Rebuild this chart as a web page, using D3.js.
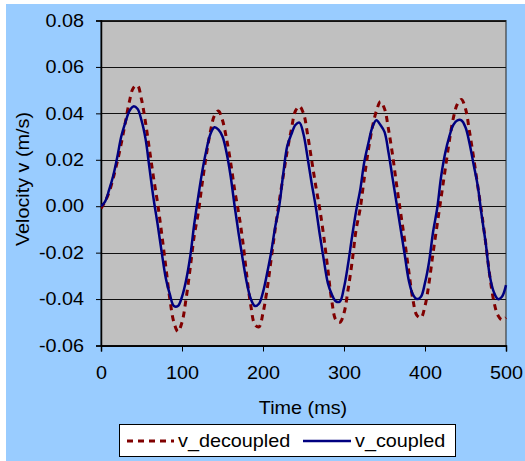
<!DOCTYPE html>
<html><head><meta charset="utf-8">
<script src="https://cdn.jsdelivr.net/npm/d3@7"></script>
<style>body{margin:0;background:#fff}svg{display:block;font-family:Arial,"Liberation Sans",sans-serif}</style>
</head><body>
<svg id="c" width="525" height="461"></svg>
<script>
const times = d3.range(0, 501, 5);
const vCoupled = [0,0.002,0.007,0.013,0.021,0.030,0.036,0.041,0.043,0.042,0.037,0.029,0.016,0.003,-0.008,-0.020,-0.031,-0.038,-0.043,-0.043,
-0.039,-0.032,-0.022,-0.008,0.004,0.015,0.024,0.031,0.034,0.033,0.030,0.023,0.013,0.000,-0.012,-0.023,-0.033,-0.040,-0.043,-0.042,
-0.037,-0.029,-0.020,-0.009,0.000,0.014,0.026,0.031,0.035,0.036,0.031,0.021,0.010,0.000,-0.012,-0.023,-0.033,-0.038,-0.041,-0.041,
-0.035,-0.025,-0.013,-0.002,0.007,0.019,0.027,0.034,0.037,0.035,0.032,0.023,0.012,0.001,-0.010,-0.021,-0.032,-0.038,-0.040,-0.039,
-0.033,-0.024,-0.011,-0.001,0.013,0.023,0.030,0.035,0.037,0.037,0.034,0.027,0.018,0.009,-0.004,-0.016,-0.030,-0.037,-0.040,-0.039,-0.034];
const vDecoupled = [-0.001,0.002,0.006,0.012,0.019,0.027,0.036,0.045,0.051,0.052,0.046,0.036,0.024,0.012,0.001,-0.012,-0.026,-0.040,-0.050,-0.054,
-0.050,-0.040,-0.027,-0.013,-0.003,0.010,0.022,0.032,0.039,0.041,0.037,0.029,0.019,0.007,-0.003,-0.015,-0.030,-0.043,-0.051,-0.052,
-0.046,-0.036,-0.023,-0.010,0.002,0.013,0.024,0.033,0.041,0.043,0.040,0.031,0.020,0.009,-0.001,-0.013,-0.027,-0.041,-0.049,-0.050,
-0.046,-0.036,-0.024,-0.010,-0.001,0.012,0.024,0.034,0.041,0.045,0.042,0.033,0.022,0.009,-0.003,-0.015,-0.028,-0.040,-0.047,-0.048,
-0.043,-0.033,-0.020,-0.008,0.004,0.016,0.028,0.038,0.044,0.046,0.042,0.032,0.021,0.009,-0.003,-0.016,-0.030,-0.041,-0.047,-0.049,-0.048];
const xTicks = [0,100,200,300,400,500];
const yTicks = [-0.06,-0.04,-0.02,0,0.02,0.04,0.06,0.08];
const seriesNames = ["v_decoupled","v_coupled"];

const SX = 1.1, FS = "18px";
const svg = d3.select("#c");
svg.append("rect").attr("x",6).attr("y",4).attr("width",519).attr("height",457).attr("fill","#99CCFF");

const L=101, R=506, T=20.5, B=345.5;
const x = d3.scaleLinear().domain([0,500]).range([L,R]);
const y = d3.scaleLinear().domain([-0.06,0.08]).range([B,T]);

svg.append("rect").attr("x",L).attr("y",T).attr("width",R-L).attr("height",B-T).attr("fill","#C0C0C0");

svg.append("g").selectAll("line").data(yTicks).join("line")
  .attr("x1",L).attr("x2",R).attr("y1",d=>Math.round(y(d))+0.5).attr("y2",d=>Math.round(y(d))+0.5)
  .attr("stroke","#111").attr("stroke-width",1);

svg.append("rect").attr("x",L).attr("y",T).attr("width",R-L).attr("height",B-T)
  .attr("fill","none").attr("stroke","#222").attr("stroke-width",1);

function stretch(sel){
  sel.each(function(){
    const t = d3.select(this);
    const x0 = +t.attr("x") || 0;
    t.attr("transform",`translate(${x0},0) scale(${SX},1) translate(${-x0},0)`);
  });
}

const fmt = d => d.toFixed(2);
const ya = svg.append("g").attr("transform",`translate(${L},0)`)
  .call(d3.axisLeft(y).tickValues(yTicks).tickFormat(fmt).tickSize(5).tickPadding(12));
ya.select(".domain").attr("stroke","#000").attr("stroke-width",1.5);
ya.selectAll("line").attr("stroke","#000");
ya.selectAll("text").attr("font-size",FS).attr("fill","#000").attr("font-family","Arial, 'Liberation Sans', sans-serif").call(stretch);

const xa = svg.append("g").attr("transform",`translate(0,${B})`)
  .call(d3.axisBottom(x).tickValues(xTicks).tickFormat(d3.format("d")).tickSize(6).tickPadding(15));
xa.select(".domain").attr("stroke","#000").attr("stroke-width",1.5);
xa.selectAll("line").attr("stroke","#000");
xa.selectAll("text").attr("font-size",FS).attr("fill","#000").attr("font-family","Arial, 'Liberation Sans', sans-serif").call(stretch);

svg.append("text").attr("transform",`translate(303,414) scale(${SX},1)`).attr("text-anchor","middle")
  .attr("font-size",FS).text("Time (ms)");
svg.append("text").attr("transform",`translate(29,179) rotate(-90) scale(${SX},1)`).attr("text-anchor","middle")
  .attr("font-size",FS).text("Velocity v (m/s)");

svg.append("clipPath").attr("id","pc").append("rect")
  .attr("x",L).attr("y",T-5).attr("width",R-L+2).attr("height",B-T+10);

const line = (vals) => d3.line().x((d,i)=>x(times[i])).y(d=>y(d)).curve(d3.curveCatmullRom.alpha(0.5))(vals);

svg.append("path").attr("d",line(vDecoupled)).attr("fill","none")
  .attr("stroke","#800000").attr("stroke-width",3).attr("stroke-dasharray","6,5")
  .attr("clip-path","url(#pc)");
svg.append("path").attr("d",line(vCoupled)).attr("fill","none")
  .attr("stroke","#000080").attr("stroke-width",2.5)
  .attr("clip-path","url(#pc)");

const lg = svg.append("g");
lg.append("rect").attr("x",119.5).attr("y",424.5).attr("width",336).attr("height",32)
  .attr("fill","#fff").attr("stroke","#000").attr("stroke-width",1);
lg.append("line").attr("x1",127).attr("x2",174).attr("y1",441).attr("y2",441)
  .attr("stroke","#800000").attr("stroke-width",3).attr("stroke-dasharray","6,5");
lg.append("text").attr("transform",`translate(178,447) scale(${SX},1)`).attr("font-size",FS).text(seriesNames[0]);
lg.append("line").attr("x1",303).attr("x2",351).attr("y1",441).attr("y2",441)
  .attr("stroke","#000080").attr("stroke-width",2.5);
lg.append("text").attr("transform",`translate(355,447) scale(${SX},1)`).attr("font-size",FS).text(seriesNames[1]);
</script>
</body></html>
